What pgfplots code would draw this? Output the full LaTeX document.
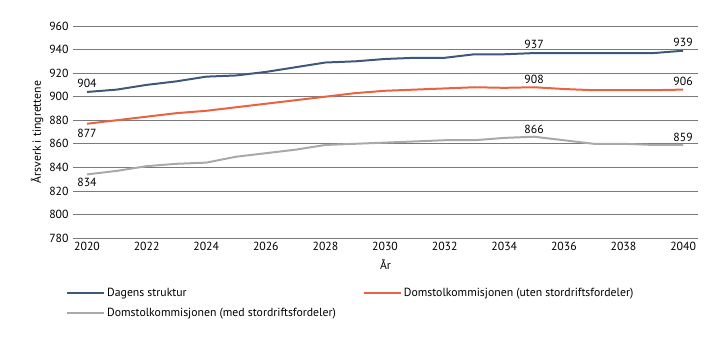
\documentclass[border=0pt]{standalone}
\usepackage{pgfplots}
\pgfplotsset{compat=1.18}
\usepackage{fontspec}
\setmainfont{PT Sans}
\definecolor{cblue}{HTML}{3D5878}
\definecolor{corange}{HTML}{EA623F}
\definecolor{cgray}{HTML}{A7A9AC}
\definecolor{gdark}{HTML}{7A7A7A}
\definecolor{glight}{HTML}{BEBEBE}
\begin{document}
\begin{tikzpicture}
\path[use as bounding box] (-73bp,-103bp) rectangle (646bp,238bp);
\begin{axis}[
  scale only axis,
  width=625bp, height=212bp,
  xmin=2019.53, xmax=2040.5,
  ymin=780, ymax=960,
  xtick={2020,2022,...,2040},
  ytick={780,800,840,860,900,920,960},
  extra y ticks={820,880,940},
  extra y tick style={grid style={glight, line width=1.4pt}},
  ymajorgrids,
  major grid style={gdark, line width=0.6pt},
  axis line style={draw=none},
  tick style={draw=none},
  /pgf/number format/assume math mode=true,
  /pgf/number format/1000 sep={},
  tick label style={font=\fontsize{11.8}{13}\selectfont, text=black},
  yticklabel style={xshift=-1bp},
  xticklabel style={yshift=-1bp},
  xlabel={År},
  ylabel={Årsverk i tingrettene},
  label style={font=\fontsize{11.8}{13}\selectfont},
  xlabel style={yshift=-2bp},
  ylabel style={yshift=-1bp},
  clip=false,
  legend columns=2,
  legend style={draw=none, fill=none, at={(0,0)}, anchor=north west,
    xshift=-10bp, yshift=-46bp, font=\fontsize{11.8}{13}\selectfont,
    /tikz/every even column/.append style={column sep=25bp},
    row sep=6bp},
  legend cell align=left,
  legend image code/.code={\draw[#1] (0bp,0bp) -- (37bp,0bp);},
]
\addplot[cblue, line width=2pt] coordinates {
(2020,904)(2021,906)(2022,910)(2023,913)(2024,917)(2025,918)(2026,921)(2027,925)(2028,929)(2029,930)
(2030,932)(2031,933)(2032,933)(2033,936)(2034,936)(2035,937)(2036,937)(2037,937)(2038,937)(2039,937)(2040,939)};
\addlegendentry{Dagens struktur}
\addplot[corange, line width=2pt] coordinates {
(2020,877)(2021,880)(2022,883)(2023,886)(2024,888)(2025,891)(2026,894)(2027,897)(2028,900)(2029,903)
(2030,905)(2031,906)(2032,907)(2033,908)(2034,907.5)(2035,908)(2036,906.5)(2037,905.5)(2038,905.5)(2039,905.5)(2040,906)};
\addlegendentry{Domstolkommisjonen (uten stordriftsfordeler)}
\addplot[cgray, line width=2pt] coordinates {
(2020,834)(2021,837)(2022,841)(2023,843)(2024,844)(2025,849)(2026,852)(2027,855)(2028,859)(2029,860)
(2030,861)(2031,862)(2032,863)(2033,863)(2034,865)(2035,866)(2036,863)(2037,860)(2038,860)(2039,859)(2040,859)};
\addlegendentry{Domstolkommisjonen (med stordriftsfordeler)}
\begin{scope}[every node/.style={font=\fontsize{11.8}{13}\selectfont}]
\node[above, yshift=1bp] at (axis cs:2020,904) {904};
\node[below, yshift=-2bp] at (axis cs:2020,877) {877};
\node[below, yshift=0bp] at (axis cs:2020,834) {834};
\node[above, yshift=1bp] at (axis cs:2035,937) {937};
\node[above, yshift=0bp] at (axis cs:2035,908) {908};
\node[above, yshift=0bp] at (axis cs:2035,866) {866};
\node[above, yshift=1bp] at (axis cs:2040,939) {939};
\node[above, yshift=0bp] at (axis cs:2040,906) {906};
\node[above, yshift=0bp] at (axis cs:2040,859) {859};
\end{scope}
\end{axis}
\end{tikzpicture}
\end{document}
